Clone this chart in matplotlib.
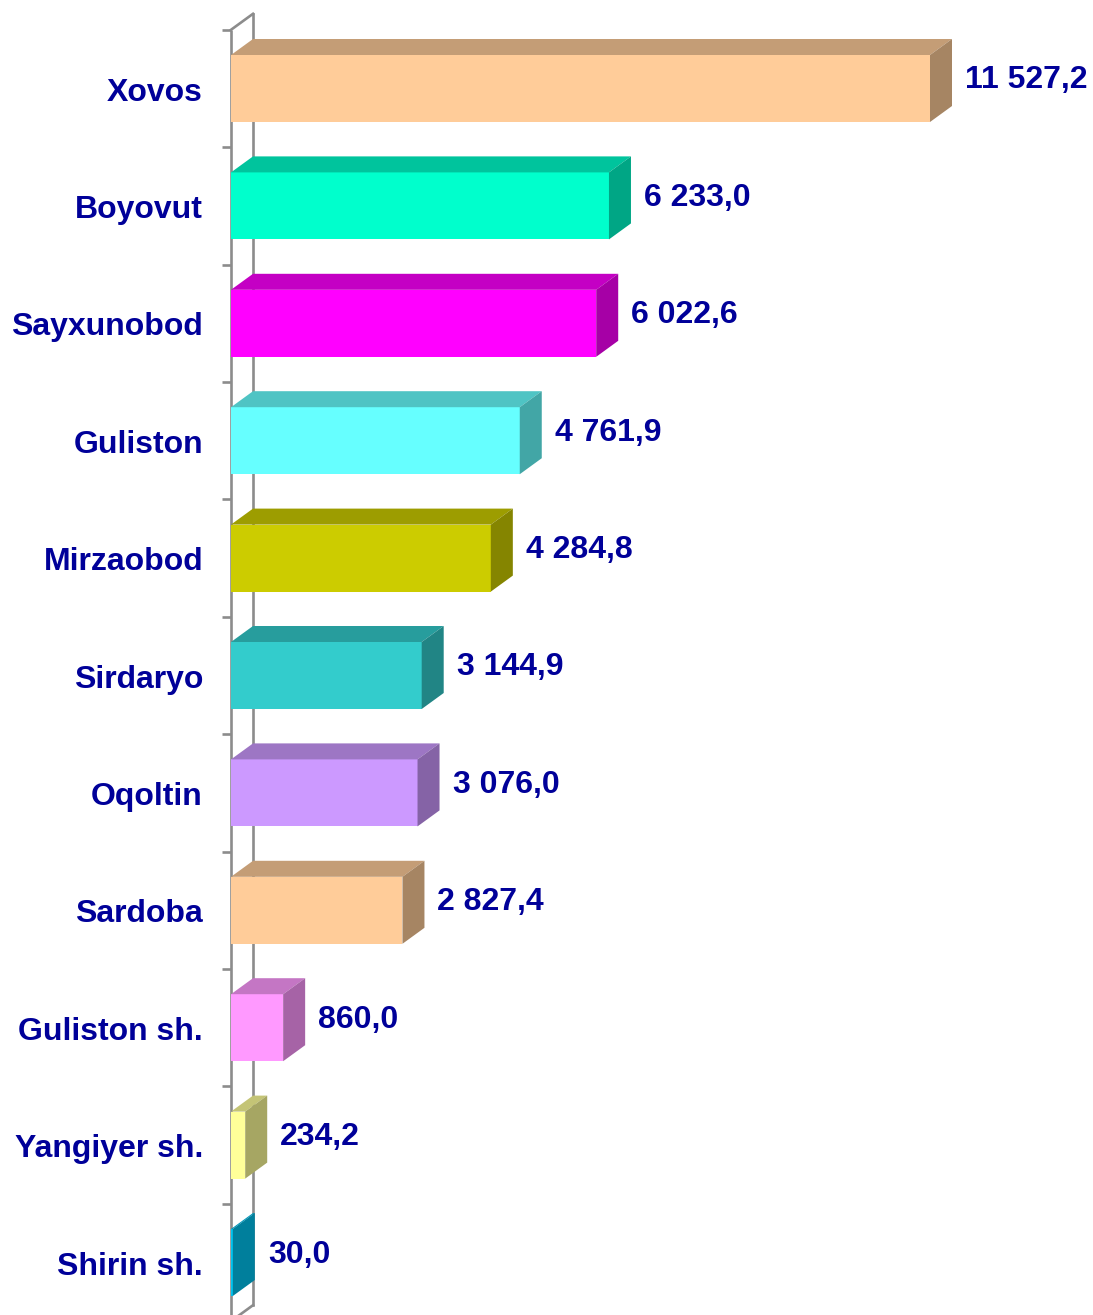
import matplotlib
matplotlib.use("Agg")
import matplotlib.pyplot as plt
from matplotlib.patches import Polygon
from matplotlib.colors import to_rgb

categories = ["Xovos", "Boyovut", "Sayxunobod", "Guliston", "Mirzaobod", "Sirdaryo",
              "Oqoltin", "Sardoba", "Guliston sh.", "Yangiyer sh.", "Shirin sh."]
values = [11527.2, 6233.0, 6022.6, 4761.9, 4284.8, 3144.9, 3076.0, 2827.4, 860.0, 234.2, 30.0]
value_labels = ["11 527,2", "6 233,0", "6 022,6", "4 761,9", "4 284,8", "3 144,9",
                "3 076,0", "2 827,4", "860,0", "234,2", "30,0"]
colors = ["#FFCC99", "#00FFCC", "#FF00FF", "#66FFFF", "#CCCC00", "#33CCCC",
          "#CC99FF", "#FFCC99", "#FF99FF", "#FFFF99", "#00C4F0"]

W, H = 1093, 1315
DPI = 100
fig = plt.figure(figsize=(W / DPI, H / DPI), dpi=DPI)

px_per_unit = (930 - 231) / 11527.2
row_px = 117.4
x0_px = 231
c0_px = 88.5

ax = fig.add_axes([x0_px / W, 0, (W - x0_px) / W, 1])
ax.set_xlim(0, (W - x0_px) / px_per_unit)
ax.set_ylim((H - c0_px) / row_px, (0 - c0_px) / row_px)
ax.axis("off")

dx = 22 / px_per_unit      # depth in value units
dy = 16 / row_px           # depth in category units
h = 67 / row_px            # front face height
tick_len = 9 / px_per_unit
gap = 13 / px_per_unit

wall_col = "#8C8C8C"
n = len(categories)
top_w, bot_w = -0.5, n - 0.5
ax.plot([0, 0], [top_w, bot_w], color=wall_col, lw=1.9, zorder=1, clip_on=False,
        solid_capstyle="butt")
ax.plot([dx, dx], [top_w - dy, bot_w - dy], color=wall_col, lw=1.9, zorder=1, clip_on=False)
ax.plot([0, dx], [top_w, top_w - dy], color=wall_col, lw=1.9, zorder=1, clip_on=False)
ax.plot([0, dx], [bot_w, bot_w - dy], color=wall_col, lw=1.9, zorder=1, clip_on=False)
for k in range(n + 1):
    ax.plot([-tick_len, 0], [k - 0.5, k - 0.5], color=wall_col, lw=1.9, zorder=1,
            clip_on=False, solid_capstyle="butt")


def shade(c, f):
    r, g, b = to_rgb(c)
    return (r * f, g * f, b * f)


txt_kw = dict(fontfamily=["Liberation Sans", "DejaVu Sans"], fontweight="bold",
              color="#000099", fontsize=23)

for i, (cat, v, lab, col) in enumerate(zip(categories, values, value_labels, colors)):
    top = i - h / 2
    bot = i + h / 2
    front = Polygon([(0, top), (v, top), (v, bot), (0, bot)], closed=True,
                    facecolor=col, edgecolor="none", zorder=2)
    topf = Polygon([(0, top), (v, top), (v + dx, top - dy), (dx, top - dy)], closed=True,
                   facecolor=shade(col, 0.77), edgecolor="none", zorder=2)
    side = Polygon([(v, top), (v + dx, top - dy), (v + dx, bot - dy), (v, bot)], closed=True,
                   facecolor=shade(col, 0.65), edgecolor="none", zorder=2)
    for p in (front, topf, side):
        ax.add_patch(p)
    ax.text(-28 / px_per_unit, i + 0.035, cat, ha="right", va="center", **txt_kw)
    ax.text(v + dx + gap, i - dy / 2, lab, ha="left", va="center", **txt_kw)

fig.savefig("out.png", dpi=DPI)
